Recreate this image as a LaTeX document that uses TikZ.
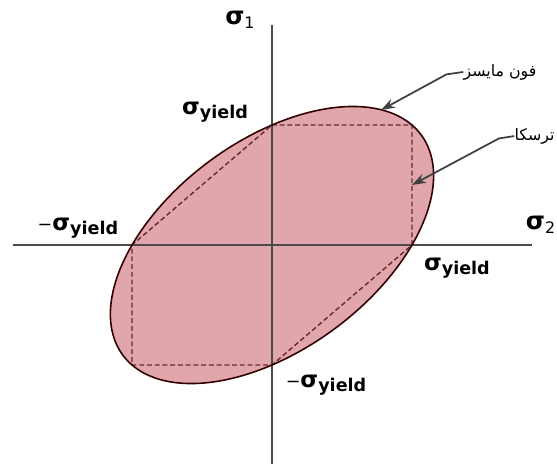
\documentclass[tikz,border=0pt]{standalone}
\usepackage{fontspec}
\setmainfont{DejaVu Sans}
\newfontfamily\arabicfont[Script=Arabic]{DejaVu Sans}
\TeXXeTstate=1
\usepackage{tikz}
\usetikzlibrary{arrows.meta}
\definecolor{pinkfill}{RGB}{225,166,172}
\definecolor{dashred}{RGB}{105,40,45}
\definecolor{axisgray}{RGB}{75,75,75}
\newcommand{\sigy}{{\fontsize{13}{13}\selectfont\bfseries σ}\raisebox{-2pt}{\fontsize{10}{10}\selectfont\bfseries yield}}

\begin{document}
\begin{tikzpicture}[x=2.8cm, y=2.4cm,
    axis/.style={axisgray, line width=0.8pt},
    tresca/.style={dashred, line width=0.8pt, dash pattern=on 2.8pt off 1.6pt},
    pointer/.style={black!75, line width=1pt, -{Stealth[length=8pt,width=5.5pt]}},
    lbl/.style={inner sep=0pt}]
\useasboundingbox (-1.943,-1.817) rectangle (2.036,2.042);
% von Mises ellipse (filled)
\fill[pinkfill] plot[domain=0:360, samples=120, smooth cycle] ({cos(\x)-sin(\x)/sqrt(3)},{cos(\x)+sin(\x)/sqrt(3)});
% Axes
\draw[axis] (-1.85,0) -- (1.857,0);
\draw[axis] (0,1.833) -- (0,-1.9);
% Tresca hexagon corners
\coordinate (t1) at (0,1);
\coordinate (t2) at (1,1);
\coordinate (t3) at (1,0);
\coordinate (t4) at (0,-1);
\coordinate (t5) at (-1,-1);
\coordinate (t6) at (-1,0);
\draw[tresca] (t1) -- (t2) -- (t3) -- (t4) -- (t5) -- (t6) -- cycle;
% Ellipse outline
\draw[black!80!red, line width=0.9pt] plot[domain=0:360, samples=120, smooth cycle] ({cos(\x)-sin(\x)/sqrt(3)},{cos(\x)+sin(\x)/sqrt(3)});
% Axis labels
\node[lbl] (s1) at (-0.229,1.875) {{\fontsize{14}{14}\selectfont\bfseries σ}\raisebox{-2pt}{\fontsize{9}{9}\selectfont 1}};
\node[lbl, anchor=east] (s2) at (2.025,0.167) {{\fontsize{14}{14}\selectfont\bfseries σ}\raisebox{-2pt}{\fontsize{9}{9}\selectfont 2}};
% Yield labels
\node[lbl] (ytop) at (-0.407,1.108) {\sigy};
\node[lbl] (yleft) at (-1.386,0.142) {−\sigy};
\node[lbl] (yright) at (1.321,-0.192) {\sigy};
\node[lbl] (ybot) at (0.386,-1.167) {−\sigy};
% Criterion labels and pointers
\node[lbl] (vm) at (1.629,1.442) {\fontsize{9}{9}\selectfont\arabicfont\beginR فون مایسز\endR};
\node[lbl, anchor=east] (tr) at (2.021,0.908) {\fontsize{9}{9}\selectfont\arabicfont\beginR ترسکا\endR};
\coordinate (vmtip) at (0.779,1.125);
\coordinate (trtip) at (1,0.5);
\draw[pointer] (vm.west) -- ++(-0.12,-0.02) -- (vmtip);
\draw[pointer] (tr.west) -- ++(-0.11,-0.02) -- (trtip);
\end{tikzpicture}
\end{document}
